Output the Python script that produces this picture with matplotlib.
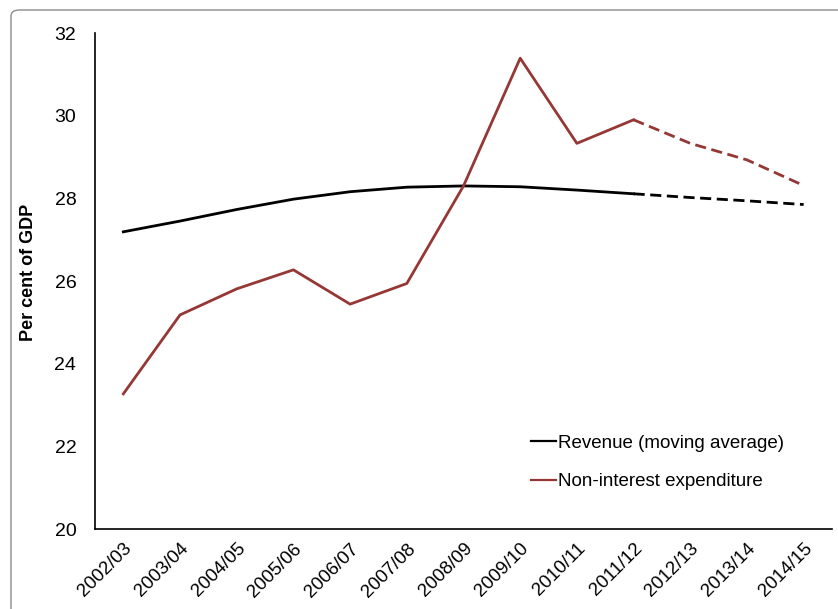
import matplotlib
matplotlib.use("Agg")
import matplotlib.pyplot as plt
from matplotlib.patches import FancyBboxPatch

years = ["2002/03", "2003/04", "2004/05", "2005/06", "2006/07", "2007/08", "2008/09",
         "2009/10", "2010/11", "2011/12", "2012/13", "2013/14", "2014/15"]
revenue = [27.19, 27.45, 27.73, 27.98, 28.16, 28.27, 28.30,
           28.28, 28.20, 28.11, 28.02, 27.94, 27.85]
expenditure = [23.27, 25.18, 25.81, 26.27, 25.44, 25.94, 28.30,
               31.39, 29.33, 29.90, 29.33, 28.93, 28.31]
last_actual = 9  # index of 2011/12; later years are projections

plt.rcParams["font.family"] = ["Liberation Sans", "DejaVu Sans"]

RED = "#953735"
fig = plt.figure(figsize=(8.38, 6.09), dpi=100)
ax = fig.add_axes([95 / 838, 1 - 529 / 609, (832 - 95) / 838, (529 - 33) / 609])

# outer frame of the chart area
frame = FancyBboxPatch((11 / 838, -0.05), 1.2, 1 - 10 / 609 + 0.05,
                       boxstyle="round,pad=0,rounding_size=0.01",
                       transform=fig.transFigure, fill=False,
                       edgecolor="#8c8c8c", linewidth=1.0, zorder=0)
fig.patches.append(frame)

x = list(range(len(years)))
lw = 2.0
ax.plot(x[:last_actual + 1], revenue[:last_actual + 1], color="black", lw=lw,
        label="Revenue (moving average)")
ax.plot(x[last_actual:], revenue[last_actual:], color="black", lw=lw, ls=(0, (4, 2)))
ax.plot(x[:last_actual + 1], expenditure[:last_actual + 1], color=RED, lw=lw,
        label="Non-interest expenditure")
ax.plot(x[last_actual:], expenditure[last_actual:], color=RED, lw=lw, ls=(0, (4, 2)))

ax.set_xlim(-0.5, len(years) - 0.5)
ax.set_ylim(20, 32)
ax.set_yticks(range(20, 33, 2))
ax.set_xticks(x)
ax.set_xticklabels(years, rotation=45, ha="right", rotation_mode="anchor")
ax.tick_params(axis="both", length=0, labelsize=13.5, colors="black")
ax.tick_params(axis="y", pad=13.5, labelsize=14)
ax.tick_params(axis="x", pad=8)
for side in ("top", "right"):
    ax.spines[side].set_visible(False)
for side in ("left", "bottom"):
    ax.spines[side].set_linewidth(1.2)
    ax.spines[side].set_color("black")

ax.set_ylabel("Per cent of GDP", fontsize=13, fontweight="bold")
ax.yaxis.set_label_coords(-0.0787, 0.518)

leg = ax.legend(loc="lower left", bbox_to_anchor=(0.569, 0.044), frameon=False,
                fontsize=13.5, handlelength=1.3, handletextpad=0.15,
                labelspacing=1.15)
for line in leg.get_lines():
    line.set_linewidth(1.6)

fig.savefig("out.png", dpi=100)
